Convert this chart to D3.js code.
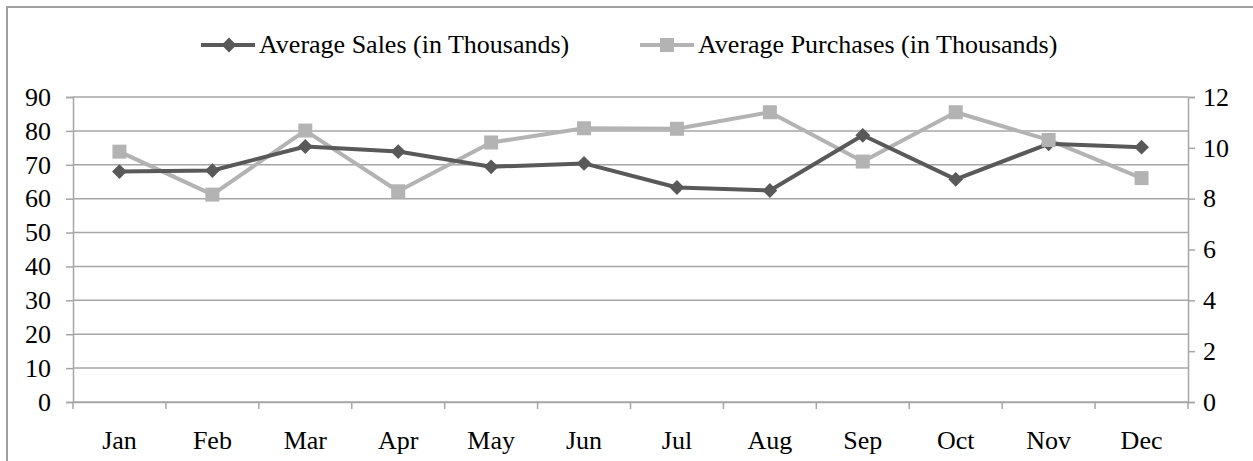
<!DOCTYPE html>
<html>
<head>
<meta charset="utf-8">
<script src="https://cdn.jsdelivr.net/npm/d3@7"></script>
<style>
  body { margin: 0; background: #fff; }
  svg { display: block; font-family: "Liberation Serif", "Times New Roman", serif; }
</style>
</head>
<body>
<svg id="chart"></svg>
<script>
const width = 1253;
const height = 461;
const margin = { top: 97, right: 65, bottom: 59, left: 73 };

// Chart data
const months = ["Jan", "Feb", "Mar", "Apr", "May", "Jun", "Jul", "Aug", "Sep", "Oct", "Nov", "Dec"];
const avgSales = [68.0, 68.3, 75.4, 73.9, 69.4, 70.4, 63.3, 62.4, 78.7, 65.7, 76.2, 75.2];
const avgPurchases = [9.85, 8.16, 10.68, 8.29, 10.21, 10.77, 10.75, 11.40, 9.46, 11.40, 10.31, 8.81];
const leftTicks = [0, 10, 20, 30, 40, 50, 60, 70, 80, 90];
const rightTicks = [0, 2, 4, 6, 8, 10, 12];
const seriesNames = ["Average Sales (in Thousands)", "Average Purchases (in Thousands)"];

const salesColor = "#595959";
const purchColor = "#b3b3b3";
const gridColor = "#a6a6a6";
const fontSize = "26px";

const svg = d3.select("#chart").attr("width", width).attr("height", height);

// outer frame
svg.append("path")
    .attr("d", `M7,${height + 2}V7H${width + 2}`)
    .attr("fill", "none")
    .attr("stroke", "#a0a0a0")
    .attr("stroke-width", 2);

const plotW = width - margin.left - margin.right;
const plotH = height - margin.top - margin.bottom;

const x = d3.scaleBand().domain(months).range([0, plotW]);
const yL = d3.scaleLinear().domain([0, 90]).range([plotH, 0]);
const yR = d3.scaleLinear().domain([0, 12]).range([plotH, 0]);

const g = svg.append("g").attr("transform", `translate(${margin.left},${margin.top})`);

// gridlines
g.append("g")
    .selectAll("line")
    .data(leftTicks)
    .enter().append("line")
    .attr("x1", 0).attr("x2", plotW)
    .attr("y1", d => yL(d)).attr("y2", d => yL(d))
    .attr("stroke", gridColor)
    .attr("stroke-width", 1.5);

// left axis
const leftAxis = g.append("g")
    .call(d3.axisLeft(yL).tickValues(leftTicks).tickSizeOuter(0).tickSize(7).tickPadding(15));
// right axis
const rightAxis = g.append("g")
    .attr("transform", `translate(${plotW},0)`)
    .call(d3.axisRight(yR).tickValues(rightTicks).tickSizeOuter(0).tickSize(7).tickPadding(8));
// bottom axis: ticks at band boundaries
const bottomAxis = g.append("g")
    .attr("transform", `translate(0,${plotH})`)
    .call(d3.axisBottom(x).tickSize(0).tickPadding(29));

bottomAxis.append("g")
    .selectAll("line")
    .data(d3.range(months.length + 1))
    .enter().append("line")
    .attr("x1", i => i * x.step()).attr("x2", i => i * x.step())
    .attr("y1", 0).attr("y2", 7)
    .attr("stroke", gridColor)
    .attr("stroke-width", 1.5);

[leftAxis, rightAxis, bottomAxis].forEach(a => {
    a.select(".domain").attr("stroke", gridColor).attr("stroke-width", 1.5);
    a.selectAll(".tick line").attr("stroke", gridColor).attr("stroke-width", 1.5);
    a.selectAll("text")
        .attr("fill", "#000")
        .style("font-family", "'Liberation Serif', 'Times New Roman', serif")
        .style("font-size", fontSize);
});

const cx = d => x(d) + x.bandwidth() / 2;

// purchases series (right axis)
g.append("path")
    .datum(avgPurchases)
    .attr("fill", "none")
    .attr("stroke", purchColor)
    .attr("stroke-width", 4)
    .attr("stroke-linejoin", "round")
    .attr("d", d3.line().x((d, i) => cx(months[i])).y(d => yR(d)));

// sales series (left axis)
g.append("path")
    .datum(avgSales)
    .attr("fill", "none")
    .attr("stroke", salesColor)
    .attr("stroke-width", 4)
    .attr("stroke-linejoin", "round")
    .attr("d", d3.line().x((d, i) => cx(months[i])).y(d => yL(d)));

const diamond = d3.symbol().type(d3.symbolDiamond2).size(140);

g.selectAll(".sales-pt")
    .data(avgSales)
    .enter().append("path")
    .attr("class", "sales-pt")
    .attr("transform", (d, i) => `translate(${cx(months[i])},${yL(d)})`)
    .attr("d", diamond)
    .attr("fill", salesColor);

g.selectAll(".purch-pt")
    .data(avgPurchases)
    .enter().append("rect")
    .attr("class", "purch-pt")
    .attr("x", (d, i) => cx(months[i]) - 7)
    .attr("y", d => yR(d) - 7)
    .attr("width", 14)
    .attr("height", 14)
    .attr("fill", purchColor);

// legend
const legend = svg.append("g").attr("transform", "translate(0,45)");
const legendItems = [
    { name: seriesNames[0], x: 201, color: salesColor, shape: "diamond" },
    { name: seriesNames[1], x: 640, color: purchColor, shape: "square" }
];
legendItems.forEach(item => {
    const li = legend.append("g").attr("transform", `translate(${item.x},0)`);
    li.append("line")
        .attr("x1", 0).attr("x2", 54)
        .attr("y1", 0).attr("y2", 0)
        .attr("stroke", item.color)
        .attr("stroke-width", 4);
    if (item.shape === "diamond") {
        li.append("path")
            .attr("transform", "translate(28,0)")
            .attr("d", diamond)
            .attr("fill", item.color);
    } else {
        li.append("rect")
            .attr("x", 20).attr("y", -7)
            .attr("width", 14).attr("height", 14)
            .attr("fill", item.color);
    }
    li.append("text")
        .attr("x", 58)
        .attr("y", 8)
        .style("font-size", fontSize)
        .attr("fill", "#000")
        .text(item.name);
});
</script>
</body>
</html>
